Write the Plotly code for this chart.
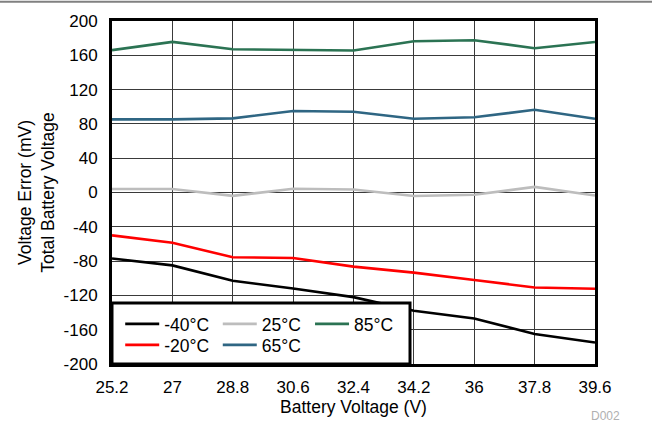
import plotly.graph_objects as go

battery_v = [25.2, 27, 28.8, 30.6, 32.4, 34.2, 36, 37.8, 39.6]
x_tick_labels = ["25.2", "27", "28.8", "30.6", "32.4", "34.2", "36", "37.8", "39.6"]
y_ticks = [-200, -160, -120, -80, -40, 0, 40, 80, 120, 160, 200]
y_tick_labels = ["-200", "-160", "-120", "-80", "-40", "0", "40", "80", "120", "160", "200"]

err_m40 = [-77, -85, -103, -112, -122, -138, -147, -165, -175]
err_m20 = [-50, -58.5, -75.5, -76.3, -86.4, -93.4, -102, -110.8, -112.3]
err_25 = [4, 4, -3.9, 4.3, 3.5, -4, -2.7, 6.6, -3.5]
err_65 = [85.3, 85.3, 86.5, 95, 94.2, 86, 87.7, 96.5, 86]
err_85 = [166, 175.6, 167, 166.7, 165.6, 176.4, 177.6, 168.3, 175.6]

# (name, values, colour, legend id, legend x, legend y)
series = [
    ("-40°C", err_m40, "#000000", "legend", 0.017, 0.1166),
    ("-20°C", err_m20, "#FF0000", "legend2", 0.017, 0.0554),
    ("25°C", err_25, "#BDBDBD", "legend3", 0.219, 0.1166),
    ("65°C", err_65, "#2F6683", "legend4", 0.219, 0.0554),
    ("85°C", err_85, "#2B7353", "legend5", 0.41, 0.1166),
]

FONT = "Liberation Sans, Arial, sans-serif"

fig = go.Figure()
legends = {}
for name, vals, color, lg, lx, ly in series:
    fig.add_trace(go.Scatter(
        x=battery_v, y=vals, mode="lines", name=name,
        line=dict(color=color, width=2.6), legend=lg,
    ))
    legends[lg] = dict(
        x=lx, y=ly, orientation="v", xanchor="left", yanchor="middle",
        bgcolor="rgba(0,0,0,0)", borderwidth=0, tracegroupgap=0, itemwidth=34,
        font=dict(family=FONT, size=17.5, color="#000000"),
    )

fig.update_layout(
    width=652, height=423,
    margin=dict(l=112, r=57, t=21, b=59, autoexpand=False),
    paper_bgcolor="white", plot_bgcolor="white",
    font=dict(family=FONT, size=17, color="#000000"),
    showlegend=True,
    **legends,
    xaxis=dict(
        range=[25.2, 39.6], tickvals=battery_v, ticktext=x_tick_labels,
        showgrid=True, gridcolor="#3a3a3a", gridwidth=1,
        showline=True, linecolor="#000000", linewidth=3, mirror=True,
        ticks="", zeroline=False, ticklabelstandoff=6, automargin=False,
        tickfont=dict(size=17),
        title=dict(text="Battery Voltage (V)", font=dict(size=17.5), standoff=5),
    ),
    yaxis=dict(
        range=[-200, 200], tickvals=y_ticks, ticktext=y_tick_labels,
        showgrid=True, gridcolor="#3a3a3a", gridwidth=1,
        showline=True, linecolor="#000000", linewidth=3, mirror=True,
        ticks="", zeroline=False, ticklabelstandoff=8, automargin=False,
        tickfont=dict(size=17),
        title=dict(text="Voltage Error (mV)<br>Total Battery Voltage",
                   font=dict(size=17.5), standoff=5),
    ),
    shapes=[
        dict(type="rect", xref="paper", yref="paper", x0=0, x1=0.617, y0=0, y1=0.178,
             fillcolor="white", line=dict(color="#000000", width=3), layer="above"),
        dict(type="line", xref="paper", yref="paper", x0=-0.24, x1=1.13, y0=1.056, y1=1.056,
             line=dict(color="#808080", width=2)),
    ],
    annotations=[
        dict(text="D002", xref="paper", yref="paper", x=1.055, y=-0.152,
             xanchor="right", yanchor="middle", showarrow=False,
             font=dict(family=FONT, size=12, color="#B0B0B0")),
    ],
)

fig.write_html(
    "out.html",
    config={"displayModeBar": False},
    post_script="document.body.style.margin='0';document.body.style.overflow='hidden';",
)
